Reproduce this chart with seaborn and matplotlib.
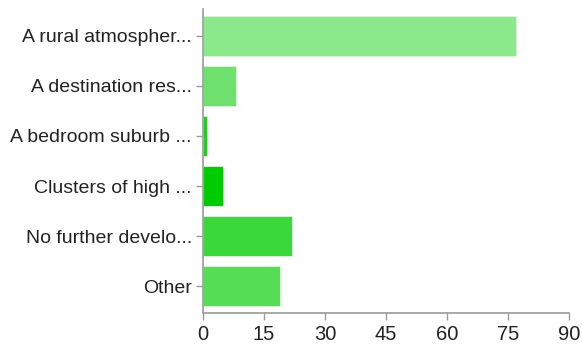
import matplotlib
matplotlib.use("Agg")
import matplotlib.pyplot as plt
import seaborn as sns
import pandas as pd

categories = ["A rural atmospher...", "A destination res...", "A bedroom suburb ...",
              "Clusters of high ...", "No further develo...", "Other"]
values = [77, 8, 1, 5, 22, 19]
colors = ["#8be88b", "#6ee06e", "#22cc22", "#00cc00", "#3ad83a", "#55dd55"]
xticks = [0, 15, 30, 45, 60, 75, 90]

sns.set_theme(style="white")
plt.rcParams['font.family'] = ['Liberation Sans', 'DejaVu Sans']

df = pd.DataFrame({"cat": categories, "val": values})

fig = plt.figure(figsize=(5.82, 3.46), dpi=100)
ax = fig.add_axes([203/582, 1-313/346, (569-203)/582, (313-9)/346])
sns.barplot(data=df, x="val", y="cat", hue="cat", palette=colors, legend=False,
            orient="h", width=0.8, ax=ax, saturation=1, edgecolor="#d8f5d8", linewidth=0.6)

ax.set_xlim(0, 90)
ax.set_xticks(xticks)
ax.set_xticklabels([str(t) for t in xticks])
ax.set_xlabel("")
ax.set_ylabel("")
ax.set_ylim(5.53, -0.53)
for s in ["top", "right"]:
    ax.spines[s].set_visible(False)
for s in ["left", "bottom"]:
    ax.spines[s].set_color("#9a9a9a")
    ax.spines[s].set_linewidth(1.2)
ax.tick_params(axis="both", which="both", length=5, width=1, color="#9a9a9a",
               direction="out", left=True, bottom=True, pad=3)
ax.tick_params(axis="y", labelsize=14, labelcolor="#222222")
ax.tick_params(axis="x", labelsize=14.5, labelcolor="#222222", pad=4)
ax.grid(False)

fig.savefig("out.png", dpi=100)
